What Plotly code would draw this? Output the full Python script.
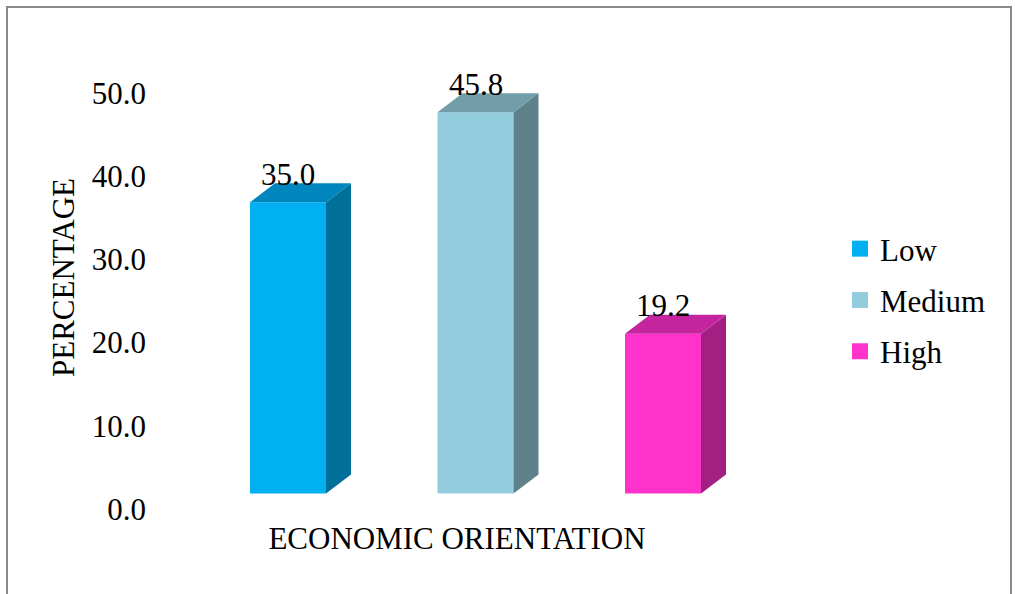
import plotly.graph_objects as go

# ---- data ----
categories = ["Low", "Medium", "High"]
percentages = [35.0, 45.8, 19.2]
tick_values = [0, 10, 20, 30, 40, 50]
tick_labels = ["0.0", "10.0", "20.0", "30.0", "40.0", "50.0"]

# ---- colours (front / right side / top of each box) ----
front_colors = ["#00B0F0", "#93CDDD", "#FF33CC"]
side_colors = ["#00709A", "#5F8189", "#A41F82"]
top_colors = ["#0086BE", "#729EAA", "#C4259E"]

# ---- geometry (pixels) ----
W, H = 1015, 594
PX_PER_UNIT = 8.32          # vertical scale
BAR_STEP_PX = 187.5         # distance between bar centres
X_DOM_PX = (152, 762)       # plot area left / right
Y_DOM_PX = (40, 515)        # plot area top / bottom
TICK_ZERO_PX = 509          # where the 0.0 tick sits
BAR_ZERO_PX = 493.4         # where the front faces of the bars stand
FIRST_BAR_PX = 288
BAR_W = 76 / BAR_STEP_PX
DX = 25 / BAR_STEP_PX       # depth offset, horizontal
DY = 19 / PX_PER_UNIT       # depth offset, vertical

x_lo = -(FIRST_BAR_PX - X_DOM_PX[0]) / BAR_STEP_PX
x_hi = x_lo + (X_DOM_PX[1] - X_DOM_PX[0]) / BAR_STEP_PX


def y_range(zero_px):
    return [-(Y_DOM_PX[1] - zero_px) / PX_PER_UNIT,
            (zero_px - Y_DOM_PX[0]) / PX_PER_UNIT]


y_domain = [(H - Y_DOM_PX[1]) / H, (H - Y_DOM_PX[0]) / H]
x_domain = [X_DOM_PX[0] / W, X_DOM_PX[1] / W]

FONT = "Liberation Serif"
TXT = dict(family=FONT, size=31, color="black")

fig = go.Figure()

# front faces
for i, (cat, val) in enumerate(zip(categories, percentages)):
    fig.add_trace(go.Bar(
        x=[i], y=[val], width=BAR_W, name=cat,
        marker=dict(color=front_colors[i], line=dict(width=0)),
        showlegend=False, hoverinfo="skip",
    ))

# side and top faces, built from the same values
for i, val in enumerate(percentages):
    r = i + BAR_W / 2
    l = i - BAR_W / 2
    fig.add_trace(go.Scatter(
        x=[r, r + DX, r + DX, r, r], y=[0, DY, val + DY, val, 0],
        fill="toself", fillcolor=side_colors[i], mode="lines",
        line=dict(width=0, color=side_colors[i]), showlegend=False, hoverinfo="skip",
    ))
    fig.add_trace(go.Scatter(
        x=[l, l + DX, r + DX, r, l], y=[val, val + DY, val + DY, val, val],
        fill="toself", fillcolor=top_colors[i], mode="lines",
        line=dict(width=0, color=top_colors[i]), showlegend=False, hoverinfo="skip",
    ))

# legend keys (square swatches)
for i, cat in enumerate(categories):
    fig.add_trace(go.Scatter(
        x=[None], y=[None], mode="markers", name=cat, legendgroup=cat,
        marker=dict(symbol="square", size=16, color=front_colors[i]),
    ))

# carrier for the percentage axis
fig.add_trace(go.Scatter(
    x=[x_lo], y=[0], yaxis="y2", mode="markers",
    marker=dict(size=1, opacity=0), showlegend=False, hoverinfo="skip",
))

# value labels
for i, val in enumerate(percentages):
    fig.add_annotation(
        x=i, y=val, xref="x", yref="y", text=f"{val:.1f}", showarrow=False,
        yanchor="middle", xanchor="center", yshift=28, font=TXT,
    )

fig.update_layout(
    width=W, height=H,
    margin=dict(l=0, r=0, t=0, b=0, autoexpand=False),
    paper_bgcolor="white", plot_bgcolor="rgba(0,0,0,0)",
    font=TXT,
    barmode="overlay",
    showlegend=True,
    legend=dict(
        x=840 / W, y=(H - 222) / H, xanchor="left", yanchor="top",
        font=TXT, traceorder="grouped", tracegroupgap=8,
        bgcolor="rgba(0,0,0,0)",
    ),
    xaxis=dict(
        domain=x_domain, range=[x_lo, x_hi], anchor="y", automargin=False,
        showticklabels=False, showgrid=False, zeroline=False, showline=False, ticks="",
        title=dict(text="ECONOMIC ORIENTATION", standoff=12, font=TXT),
    ),
    yaxis=dict(
        domain=y_domain, range=y_range(BAR_ZERO_PX), automargin=False,
        showticklabels=False, showgrid=False, zeroline=False, showline=False, ticks="",
    ),
    yaxis2=dict(
        domain=y_domain, range=y_range(TICK_ZERO_PX), overlaying="y",
        anchor="free", position=146 / W, side="left", automargin=False,
        tickmode="array", tickvals=tick_values, ticktext=tick_labels,
        showgrid=False, zeroline=False, showline=False, ticks="",
        tickfont=TXT,
        title=dict(text="PERCENTAGE", standoff=6, font=TXT),
    ),
    shapes=[dict(
        type="rect", xref="paper", yref="paper",
        x0=7 / W, x1=1011 / W, y0=-0.05, y1=(H - 7) / H,
        line=dict(color="#898989", width=2), fillcolor="rgba(0,0,0,0)", layer="below",
    )],
)

fig.write_html("out.html")
